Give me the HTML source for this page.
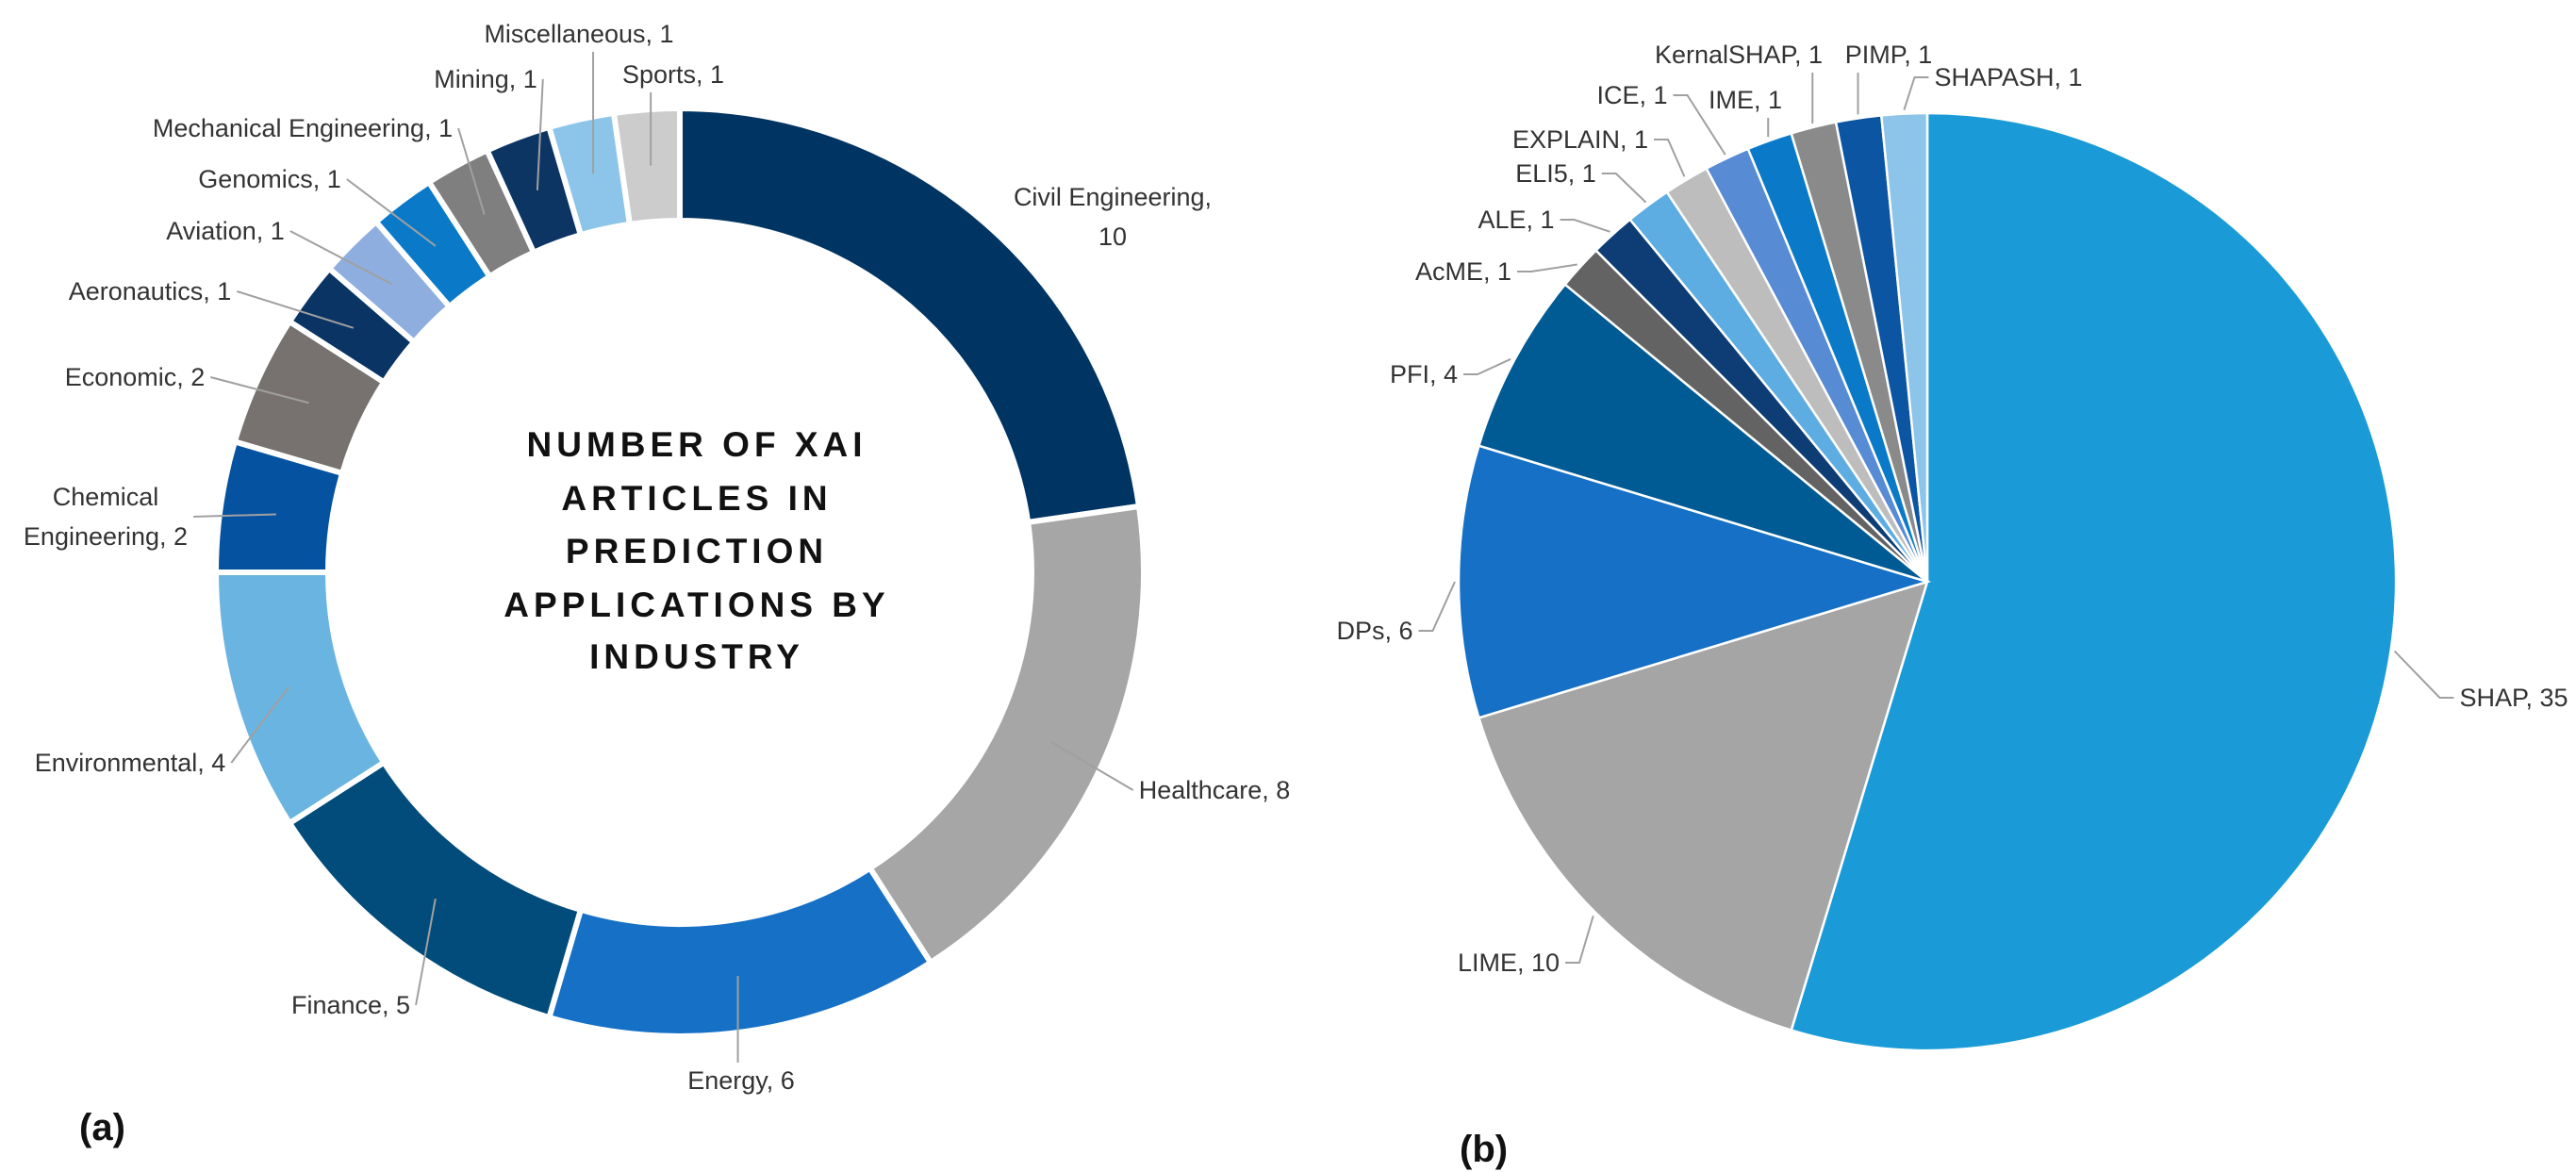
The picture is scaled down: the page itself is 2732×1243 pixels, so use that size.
<!DOCTYPE html>
<html><head><meta charset="utf-8">
<style>
html,body{margin:0;padding:0;background:#fff;}
svg{display:block;}
text{font-family:"Liberation Sans",sans-serif;fill:#333;}
.lbl{font-size:27px;}
.ttl{font-size:37px;font-weight:bold;letter-spacing:5px;fill:#111;}
.tag{font-size:40px;font-weight:bold;fill:#111;}
</style></head>
<body>
<svg id="chart" width="2732" height="1243" viewBox="0 0 2732 1243" xmlns="http://www.w3.org/2000/svg">
<g id="donut"></g>
<g id="pie"></g>
<g>
<text class="ttl" x="739" y="484" text-anchor="middle">NUMBER OF XAI</text>
<text class="ttl" x="739" y="541" text-anchor="middle">ARTICLES IN</text>
<text class="ttl" x="739" y="597" text-anchor="middle">PREDICTION</text>
<text class="ttl" x="739" y="654" text-anchor="middle">APPLICATIONS BY</text>
<text class="ttl" x="739" y="709" text-anchor="middle">INDUSTRY</text>
</g>
<text class="tag" x="84" y="1209">(a)</text>
<text class="tag" x="1548" y="1232">(b)</text>
</svg>
<script>
// Donut data (clockwise from 12 o'clock)
const industries = ["Civil Engineering","Healthcare","Energy","Finance","Environmental","Chemical Engineering","Economic","Aeronautics","Aviation","Genomics","Mechanical Engineering","Mining","Miscellaneous","Sports"];
const industryCounts = [10,8,6,5,4,2,2,1,1,1,1,1,1,1];
const industryColors = ["#003462","#a6a6a6","#1570c6","#024c7c","#6ab4e2","#0452a0","#777270","#0a3464","#8eaedf","#0a7ac8","#7f7f7f","#0c3564","#8dc5ea","#cccccc"];
// Pie data
const methods = ["SHAP","LIME","DPs","PFI","AcME","ALE","ELI5","EXPLAIN","ICE","IME","KernalSHAP","PIMP","SHAPASH"];
const methodCounts = [35,10,6,4,1,1,1,1,1,1,1,1,1];
const methodColors = ["#1a9bd7","#a5a5a5","#1570c6","#005a94","#636363","#0e3d75","#5dade2","#bdbdbd","#578bd4","#0a7ac8","#8a8a8a","#0b55a3","#8dc4ea"];

const NS="http://www.w3.org/2000/svg";
function mk(tag,attrs,parent){const e=document.createElementNS(NS,tag);for(const k in attrs)e.setAttribute(k,attrs[k]);parent.appendChild(e);return e;}
function pt(cx,cy,r,a){return [cx+r*Math.sin(a),cy-r*Math.cos(a)];}
function edge(b,m){
  if(m[0]>=b.x && m[0]<=b.x+b.width){
    return [m[0], m[1]>b.y+b.height/2 ? b.y+b.height+4 : b.y-4];
  }
  const x = m[0]<b.x ? b.x-6 : b.x+b.width+6;
  return [x, b.y+b.height/2];
}

// Donut
const dg=document.getElementById('donut');
const DCX=721,DCY=607,DR=492,DRI=373;
const dTot=industryCounts.reduce((a,b)=>a+b,0);
let acc=0;
const donutLabels=[[1180,208,"Civil Engineering,","10"],[1288,837],[786,1145],[372,1065],[138,808],[112,526,"Chemical","Engineering, 2"],[143,399],[159,308],[239,244],[286,189],[321,135],[515,83],[614,35],[714,78]];
const sliceLayer=mk('g',{},dg);


const lineLayer=mk('g',{},dg);


industryCounts.forEach((v,i)=>{
  const a0=acc/dTot*2*Math.PI;acc+=v;const a1=acc/dTot*2*Math.PI;
  const p0=pt(DCX,DCY,DR,a0),p1=pt(DCX,DCY,DR,a1),q1=pt(DCX,DCY,DRI,a1),q0=pt(DCX,DCY,DRI,a0);
  const lg=(a1-a0)>Math.PI?1:0;
  const p=mk('path',{d:`M${p0[0]},${p0[1]} A${DR},${DR} 0 ${lg} 1 ${p1[0]},${p1[1]} L${q1[0]},${q1[1]} A${DRI},${DRI} 0 ${lg} 0 ${q0[0]},${q0[1]} Z`,fill:industryColors[i],stroke:'#fff','stroke-width':6},sliceLayer);
  
  
  const L=donutLabels[i];
  const am=(a0+a1)/2; const m=pt(DCX,DCY,(DR+DRI)/2,am);
  const tg=mk('g',{},dg);
  
  
  if(L.length>2){
    const t1=mk('text',{x:L[0],y:L[1]+10,'text-anchor':'middle',class:'lbl'},tg);t1.textContent=L[2];
    const t2=mk('text',{x:L[0],y:L[1]+52,'text-anchor':'middle',class:'lbl'},tg);t2.textContent=L[3];
  } else {
    const t=mk('text',{x:L[0],y:L[1]+10,'text-anchor':'middle',class:'lbl'},tg);t.textContent=industries[i]+', '+v;
  }
  if(i===0) return;
  const b=tg.getBBox();
  const e=edge(b,m);
  const ln=mk('line',{x1:m[0],y1:m[1],x2:e[0],y2:e[1],stroke:'#a0a0a0','stroke-width':2},lineLayer);
  
  
});
dg.appendChild(lineLayer);

// Pie
const pg=document.getElementById('pie');
const PCX=2044,PCY=617,PR=497;
const pTot=methodCounts.reduce((a,b)=>a+b,0);
acc=0;
const pieLabels=[[2666,739],[1600,1020],[1458,668],[1510,396],[1552,287],[1608,232],[1650,183],[1676,147],[1731,100],[1851,105],[1844,57],[2003,57],[2130,81]];
methodCounts.forEach((v,i)=>{
  const a0=acc/pTot*2*Math.PI;acc+=v;const a1=acc/pTot*2*Math.PI;
  const p0=pt(PCX,PCY,PR,a0),p1=pt(PCX,PCY,PR,a1);
  const lg=(a1-a0)>Math.PI?1:0;
  const p=mk('path',{d:`M${PCX},${PCY} L${p0[0]},${p0[1]} A${PR},${PR} 0 ${lg} 1 ${p1[0]},${p1[1]} Z`,fill:methodColors[i],stroke:'#fff','stroke-width':2.5},pg);
  
  
  const L=pieLabels[i];
  const am=(a0+a1)/2; const e=pt(PCX,PCY,PR+4,am);
  const t=mk('text',{x:L[0],y:L[1]+10,'text-anchor':'middle',class:'lbl'},pg);t.textContent=methods[i]+', '+v;
  
  
  const b=t.getBBox();
  const q=edge(b,e);
  let pts;
  if(q[1]===b.y+b.height/2){
    const kx = q[0] + (e[0]>q[0]? 15 : -15);
    pts=`${e[0]},${e[1]} ${kx},${q[1]} ${q[0]},${q[1]}`;
  } else {
    pts=`${e[0]},${e[1]} ${q[0]},${q[1]}`;
  }
  const pl=mk('polyline',{points:pts,fill:'none',stroke:'#a0a0a0','stroke-width':2},pg);
  
  
});
</script>
</body></html>
